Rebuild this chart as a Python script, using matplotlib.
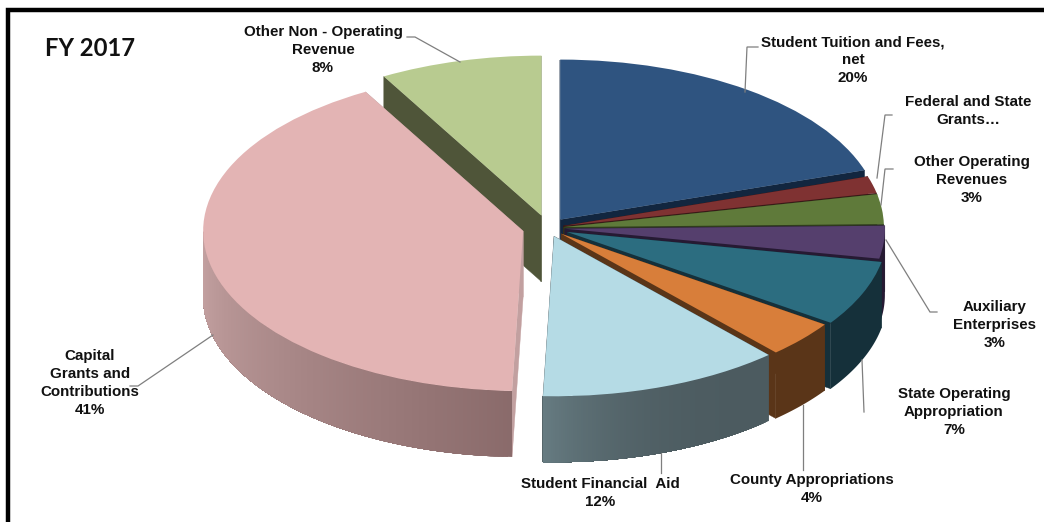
import numpy as np
import matplotlib
matplotlib.use("Agg")
import matplotlib.pyplot as plt
from matplotlib.colors import to_rgb

# ---- data ----
categories = ["Student Tuition and Fees, net", "Federal and State Grants", "Other Operating Revenues",
              "Auxiliary Enterprises", "State Operating Appropriation", "County Appropriations",
              "Student Financial Aid", "Capital Grants and Contributions", "Other Non - Operating Revenue"]
values = [20.0, 1.7, 3.0, 3.3, 6.6, 3.7, 12.25, 41.25, 8.2]
label_texts = ["Student Tuition and Fees,\nnet\n20%", "Federal and State\nGrants\u2026", "Other Operating\nRevenues\n3%",
               "Auxiliary\nEnterprises\n3%", "State Operating\nAppropriation\n7%", "County Appropriations\n4%",
               "Student Financial  Aid\n12%", "Capital\nGrants and\nContributions\n41%", "Other Non - Operating\nRevenue\n8%"]

# ---- styling and layout ----
explode = [0.065, 0.05, 0.05, 0.053, 0.065, 0.055, 0.055, 0.08, 0.08]
top_colors = ["#2f5480", "#7f3232", "#5f7a3a", "#553f6d", "#2c6d80", "#d87e3a", "#b5dbe5", "#e3b4b4", "#b8cb90"]
side_colors = ["#12263f", "#3a1717", "#2f3c1d", "#261a33", "#15303a", "#5a3518", "#4a5a60", "#c2a0a0", "#4f5539"]
side_gradients = {6: ("#4c5b60", "#667b81"), 7: ("#8a6b6b", "#c6a3a3")}
gradient_power = {6: 3, 7: 1}
paint_order = [8, 7, 0, 1, 2, 3, 4, 5, 6]
CX, CY, RX, RY, DEPTH = 548, 228, 320, 160, 66
W, H = 1044, 522
label_pos = [(853, 60), (968, 111), (972, 180), (995, 325), (954, 412), (812, 489), (600, 493), (90, 383), (323, 50)]
leaders = [[(758, 47), (747, 47), (745, 92)], [(892, 115), (885, 115), (877, 178)], [(893, 169), (885, 169), (881, 205)],
           [(886, 240), (930, 312), (937, 312)], [(862, 360), (864, 412)], [(803, 405), (803, 470)], [(661, 453), (661, 473)],
           [(213, 335), (138, 386), (130, 386)], [(407, 37), (415, 37), (460, 62)]]

fig = plt.figure(figsize=(W / 100, H / 100), dpi=100, facecolor="white")
ax = fig.add_axes([0, 0, 1, 1])
wedges, _ = ax.pie(values, explode=explode, colors=top_colors, startangle=90, counterclock=False,
                   radius=1, wedgeprops={"linewidth": 0})
ax.set_aspect("auto")
ax.set_xlim(-CX / RX, (W - CX) / RX)
ax.set_ylim((CY - H) / RY, CY / RY)
ax.axis("off")

depth = DEPTH / RY
fractions = np.array(values) / sum(values)
edges = np.concatenate([[0], np.cumsum(fractions)]) * 360
lo, hi = 90.0, 270.0

for z, i in enumerate(paint_order):
    a, b = edges[i], edges[i + 1]
    mid = np.radians((a + b) / 2)
    ox, oy = explode[i] * np.sin(mid), explode[i] * np.cos(mid)
    zb = 2 * z + 1
    # radial faces
    for t in (a, b):
        x, y = np.sin(np.radians(t)), np.cos(np.radians(t))
        ax.fill([ox, ox + x, ox + x, ox], [oy, oy + y, oy + y - depth, oy - depth],
                color=side_colors[i], lw=0.3, zorder=zb)
    # outer wall: gradient strips overlap so that no seams show
    s, e = max(a, lo), min(b, hi)
    if e > s:
        n = 120 if i in side_gradients else 1
        for k, start in enumerate(np.linspace(s, e, n, endpoint=False)):
            ts = np.radians(np.linspace(start, e, 80))
            xs, ys = np.sin(ts) + ox, np.cos(ts) + oy
            col = side_colors[i]
            if i in side_gradients:
                c0, c1 = (np.array(to_rgb(c)) for c in side_gradients[i])
                f = (k / (n - 1)) ** gradient_power[i]
                col = tuple(c0 + (c1 - c0) * f)
            ax.fill(np.concatenate([xs, xs[::-1]]), np.concatenate([ys, ys[::-1] - depth]),
                    color=col, lw=0, zorder=zb)
    wedges[i].set_zorder(zb + 1)

# overlay in pixel coordinates for annotation
ov = fig.add_axes([0, 0, 1, 1], facecolor="none")
ov.set_xlim(0, W)
ov.set_ylim(H, 0)
ov.axis("off")
for line in leaders:
    ov.plot(*zip(*line), color="#7f7f7f", lw=0.9, solid_joinstyle="miter")
for txt, (x, y) in zip(label_texts, label_pos):
    ov.text(x, y, txt, ha="center", va="center", family="Liberation Sans", weight="bold",
            fontsize=10.9, color="#111111", linespacing=1.36)
ov.text(45, 48, "FY 2017", ha="left", va="center", family="Lato", weight="bold", fontsize=17.2, color="#111111")
# the black frame
ov.plot([8, 8, W], [H, 10, 10], color="black", lw=3.2, solid_joinstyle="miter")

fig.savefig("out.png", dpi=100)
